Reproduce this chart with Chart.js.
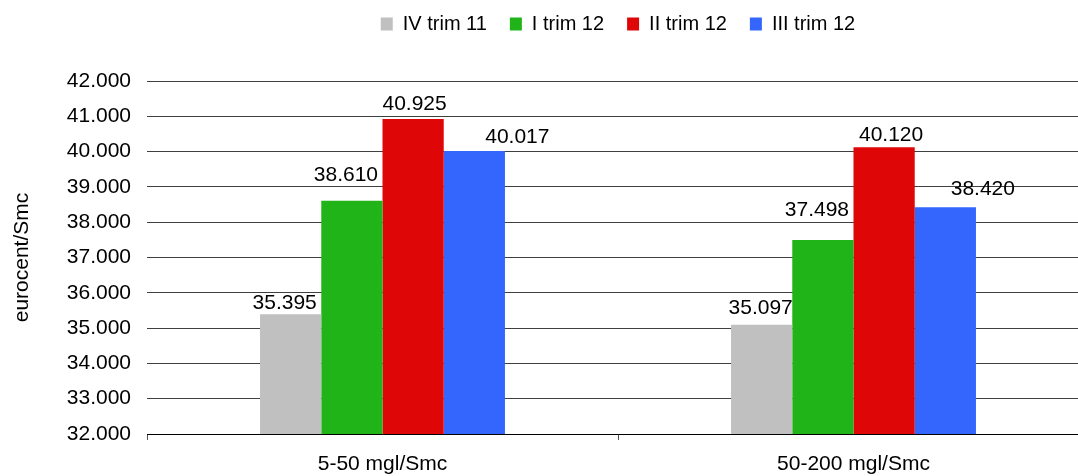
<!DOCTYPE html>
<html>
<head>
<meta charset="utf-8">
<title>eurocent/Smc</title>
<script src="https://cdn.jsdelivr.net/npm/chart.js@4.4.1/dist/chart.umd.min.js"></script>
<style>
  html, body { margin: 0; padding: 0; background: #fff; overflow: hidden; }
  #wrap { width: 1078px; height: 476px; overflow: hidden; }
  canvas { display: block; }
</style>
</head>
<body>
<div id="wrap"><canvas id="chart" width="1236" height="476"></canvas></div>
<script>
// Categories and series
const categories = ['5-50 mgl/Smc', '50-200 mgl/Smc'];
const seriesNames = ['IV trim 11', 'I trim 12', 'II trim 12', 'III trim 12'];
const ivTrim11 = [35.395, 35.097];
const iTrim12 = [38.610, 37.498];
const iiTrim12 = [40.925, 40.120];
const iiiTrim12 = [40.017, 38.420];

// Y axis tick labels, 32 to 42
const yTickValues = [32, 33, 34, 35, 36, 37, 38, 39, 40, 41, 42];
const yTickLabels = ['32.000', '33.000', '34.000', '35.000', '36.000', '37.000',
                     '38.000', '39.000', '40.000', '41.000', '42.000'];

// Styling
const seriesColors = ['#C0C0C0', '#20B418', '#DE0606', '#3466FE'];
const FONT = 'Liberation Sans, Arial, Helvetica, sans-serif';

// Value label placement (pixel nudges relative to each bar top)
const labelDx = [[-6, -1], [-6, -6], [1.5, 7], [43, 37.5]];
const labelDy = [[10.5, 16.7], [25, 29.5], [15, 12], [14, 18]];

const seriesValues = [ivTrim11, iTrim12, iiTrim12, iiiTrim12];

const valueLabels = {
  id: 'valueLabels',
  afterDatasetsDraw(chart) {
    const ctx = chart.ctx;
    ctx.save();
    ctx.font = '21px ' + FONT;
    ctx.fillStyle = '#000';
    ctx.textAlign = 'center';
    ctx.textBaseline = 'middle';
    chart.data.datasets.forEach((ds, i) => {
      const meta = chart.getDatasetMeta(i);
      meta.data.forEach((bar, j) => {
        const v = ds.data[j];
        ctx.fillText(v.toFixed(3), bar.x + labelDx[i][j], bar.y - labelDy[i][j]);
      });
    });
    ctx.restore();
  }
};

// Fixed legend band height so the plot starts where intended
const legendBand = {
  id: 'legendBand',
  beforeInit(chart) {
    const legend = chart.legend;
    if (!legend) return;
    const fit = legend.fit;
    legend.fit = function () {
      fit.call(this);
      this.height = 90;
    };
  }
};

Chart.defaults.font.family = FONT;
Chart.defaults.color = '#000';

new Chart(document.getElementById('chart'), {
  type: 'bar',
  data: {
    labels: categories,
    datasets: seriesNames.map((name, i) => ({
      label: name,
      data: seriesValues[i],
      backgroundColor: seriesColors[i],
      borderWidth: 0,
      barPercentage: 1,
      categoryPercentage: 0.52
    }))
  },
  options: {
    responsive: false,
    animation: false,
    devicePixelRatio: 1,
    layout: { padding: { top: -9, left: 0, right: 0, bottom: 0 } },
    plugins: {
      legend: {
        position: 'top',
        labels: {
          boxWidth: 12,
          boxHeight: 13,
          padding: 23,
          color: '#000',
          font: { size: 20, family: FONT }
        }
      },
      tooltip: { enabled: false }
    },
    scales: {
      x: {
        offset: true,
        grid: {
          offset: true,
          drawOnChartArea: false,
          drawTicks: true,
          tickLength: 6,
          color: '#555'
        },
        border: { display: true, color: '#000', width: 1 },
        ticks: { padding: 12, color: '#000', font: { size: 21, family: FONT } },
        afterFit(scale) { scale.height = 42; }
      },
      y: {
        min: 32,
        max: 42,
        afterBuildTicks(scale) {
          scale.ticks = yTickValues.map(v => ({ value: v }));
        },
        grid: { drawTicks: false, color: '#404040', lineWidth: 1 },
        border: { display: false },
        ticks: {
          padding: 16,
          color: '#000',
          font: { size: 21, family: FONT },
          callback(value) {
            const k = yTickValues.indexOf(value);
            return k >= 0 ? yTickLabels[k] : '';
          }
        },
        title: {
          display: true,
          text: 'eurocent/Smc',
          color: '#000',
          font: { size: 21, family: FONT },
          padding: { top: 10, bottom: 0 }
        },
        afterFit(scale) { scale.width = 147; }
      },
      yBalance: {
        type: 'linear',
        position: 'right',
        grid: { display: false, drawTicks: false },
        border: { display: false },
        ticks: { display: false },
        afterFit(scale) { scale.width = 147; }
      }
    }
  },
  plugins: [legendBand, valueLabels]
});
</script>
</body>
</html>
